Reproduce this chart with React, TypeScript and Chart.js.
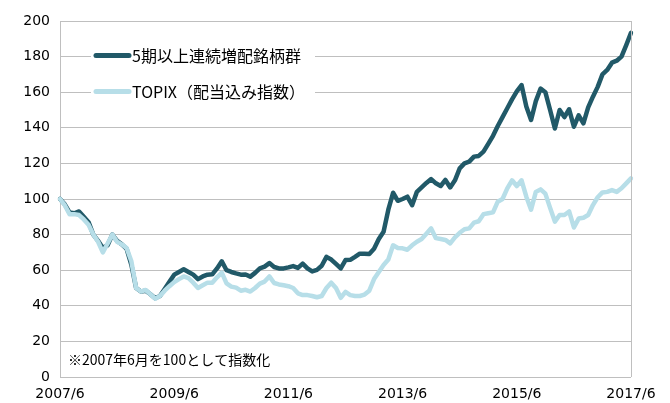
import React, { useEffect, useRef } from "react";
import { Chart, registerables } from "chart.js";

Chart.register(...registerables);

const seriesNames = ["5期以上連続増配銘柄群", "TOPIX（配当込み指数）"];
const noteText = "※2007年6月を100として指数化";

// monthly, 2007/6 .. 2017/6
const buildLabels = (): string[] => {
  const out: string[] = [];
  let y = 2007;
  let m = 6;
  for (let i = 0; i <= 120; i++) {
    out.push(`${y}/${m}`);
    m++;
    if (m > 12) { m = 1; y++; }
  }
  return out;
};
const months = buildLabels();
const tickLabels = ["2007/6", "2009/6", "2011/6", "2013/6", "2015/6", "2017/6"];

const dividendGrowers = [
  100, 97, 92.5, 92, 93, 90, 87, 80, 76.5, 72.5,
  74, 80, 76.5, 74.5, 72, 63, 50, 48, 48.5, 46.5,
  44.3, 45.5, 49.5, 53.5, 57.5, 59, 60.5, 59, 57.5, 55,
  56.5, 57.5, 57.7, 61, 65, 60, 59, 58.2, 57.5, 57.6,
  56.4, 58.5, 61, 62, 64, 61.8, 61, 61, 61.6, 62.3,
  61.3, 63.7, 61, 59.3, 60.2, 62.5, 67.5, 66, 63.5, 61,
  65.7, 65.8, 67.5, 69.3, 69.3, 69.1, 72, 77.5, 81.6, 94,
  103.5, 99, 100, 101.3, 96.5, 104, 106.5, 109, 111.2, 108.8,
  107.3, 110.7, 106.5, 110.5, 117.2, 120, 121, 123.8, 124.2, 126.6,
  131, 135.5, 141, 146, 151, 156, 160.5, 164, 152, 144.4,
  155, 162, 160, 150, 139.6, 150, 146, 150.4, 140.6, 147,
  142.5, 151.5, 157.5, 163, 170, 172.5, 176.6, 177.7, 180, 186.5,
  193.4,
];

const topixTR = [
  100, 96.5, 91.5, 91.5, 91, 88.5, 85.5, 80, 76, 70,
  75, 80, 76, 74.5, 72.5, 65, 50, 48, 48.9, 46.5,
  44, 45.5, 48.5, 51, 53.3, 55, 56.5, 55.5, 53, 50,
  51.5, 53, 53, 56, 58.6, 52.6, 50.8, 50.2, 48.5, 49,
  48, 50, 52.5, 53.6, 56.5, 52.8, 52, 51.5, 51, 50,
  47, 46, 46, 45.5, 44.8, 45.5, 50, 53, 50, 44.5,
  47.8, 46, 45.5, 45.5, 46.3, 48.5, 55, 59, 62.9, 66,
  74, 72.5, 72.3, 71.5, 74, 76, 77.5, 80.5, 83.5, 78,
  77.5, 77, 75.1, 78.5, 81, 83, 83.5, 86.7, 87.5, 91.5,
  92, 92.5, 98.5, 100, 106, 110.5, 107.3, 110.5, 101.3, 94,
  104, 105.4, 103, 95, 87.3, 91, 91, 93, 84, 89,
  89.5, 91, 96.6, 101, 103.7, 104, 105, 104, 106, 108.8,
  111.6,
];

const DARK = "#215968";
const LIGHT = "#b7dee8";
const GRID = "#bfbfbf";
const TICK_FONT = "'DejaVu Sans', Verdana, sans-serif";
const JP_FONT = "'Noto Sans CJK JP', 'Noto Sans', sans-serif";

const overlayPlugin = {
  id: "overlay",
  afterDraw(chart: any) {
    const { ctx, chartArea } = chart;
    const l = chartArea.left;
    const t = chartArea.top;
    ctx.save();
    // right border of plot area
    ctx.strokeStyle = GRID;
    ctx.lineWidth = 1;
    ctx.beginPath();
    ctx.moveTo(Math.round(chartArea.right) + 0.5, chartArea.top);
    ctx.lineTo(Math.round(chartArea.right) + 0.5, chartArea.bottom);
    ctx.stroke();

    // legend box
    ctx.fillStyle = "#ffffff";
    ctx.fillRect(l + 31, t + 18, 224, 70);
    const items = [
      { name: seriesNames[0], color: DARK, y: t + 34.5 },
      { name: seriesNames[1], color: LIGHT, y: t + 70.5 },
    ];
    ctx.lineCap = "round";
    ctx.lineWidth = 5;
    ctx.font = `16px ${JP_FONT}`;
    ctx.textBaseline = "middle";
    ctx.textAlign = "left";
    for (const it of items) {
      ctx.strokeStyle = it.color;
      ctx.beginPath();
      ctx.moveTo(l + 36, it.y);
      ctx.lineTo(l + 69, it.y);
      ctx.stroke();
      ctx.fillStyle = "#000000";
      ctx.fillText(it.name, l + 72, it.y);
    }
    // note
    ctx.font = `14px ${JP_FONT}`;
    ctx.fillText(noteText, l + 8, chart.scales.y.getPixelForValue(10));
    ctx.restore();
  },
};

export default function App() {
  const ref = useRef<HTMLCanvasElement | null>(null);
  useEffect(() => {
    if (!ref.current) return;
    const chart = new Chart(ref.current, {
      type: "line",
      data: {
        labels: months,
        datasets: [
          {
            label: seriesNames[1],
            data: topixTR,
            borderColor: LIGHT,
            backgroundColor: LIGHT,
            borderWidth: 4.5,
            pointRadius: 0,
            tension: 0,
            borderCapStyle: "round",
            borderJoinStyle: "round",
            order: 0,
          },
          {
            label: seriesNames[0],
            data: dividendGrowers,
            borderColor: DARK,
            backgroundColor: DARK,
            borderWidth: 4.5,
            pointRadius: 0,
            tension: 0,
            borderCapStyle: "round",
            borderJoinStyle: "round",
            order: 1,
          },
        ],
      },
      options: {
        animation: false,
        responsive: false,
        maintainAspectRatio: false,
        layout: { padding: { top: 21, right: 39, left: 0, bottom: 0 } },
        plugins: { legend: { display: false }, tooltip: { enabled: false } },
        scales: {
          x: {
            type: "category",
            grid: { display: false, drawTicks: false },
            border: { display: false },
            ticks: {
              autoSkip: false,
              maxRotation: 0,
              minRotation: 0,
              padding: 9,
              color: "#000000",
              font: { family: TICK_FONT, size: 14 },
              callback: (_v: any, i: number) => {
                const lab = months[i];
                return tickLabels.includes(lab) ? lab : "";
              },
            },
            afterFit: (s: any) => { s.height = 26; },
          },
          y: {
            min: 0,
            max: 200,
            grid: { color: GRID, lineWidth: 1, drawTicks: false },
            border: { display: true, color: GRID, width: 1 },
            ticks: {
              stepSize: 20,
              padding: 10,
              color: "#000000",
              font: { family: TICK_FONT, size: 14 },
            },
            afterFit: (s: any) => { s.width = 60; },
          },
        },
      },
      plugins: [overlayPlugin],
    });
    return () => chart.destroy();
  }, []);
  return (
    <div style={{ position: "absolute", left: 0, top: 0, width: 670, height: 403, background: "#fff" }}>
      <canvas ref={ref} width={670} height={403} style={{ width: 670, height: 403, display: "block" }} />
    </div>
  );
}
